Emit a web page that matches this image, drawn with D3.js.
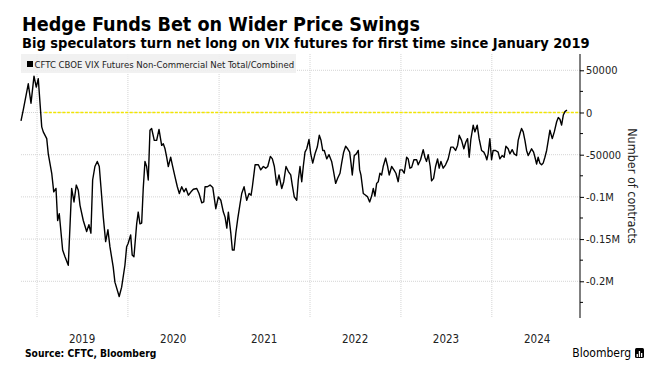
<!DOCTYPE html>
<html>
<head>
<meta charset="utf-8">
<script src="https://cdn.jsdelivr.net/npm/d3@7"></script>
<style>
  body { margin: 0; background: #fff; }
  svg { display: block; font-family: "DejaVu Sans Condensed", "DejaVu Sans", sans-serif; font-stretch: condensed; }
</style>
</head>
<body>
<div id="chart"></div>
<script>
// weekly CFTC net positioning (decimal years, contracts)
const weeks = [
  2018.824, 2018.849, 2018.904, 2018.934, 2018.967, 2018.992, 2019.014, 2019.052, 2019.069, 2019.107,
  2019.124, 2019.162, 2019.184, 2019.209, 2019.227, 2019.245, 2019.282, 2019.308, 2019.344, 2019.381,
  2019.407, 2019.432, 2019.454, 2019.473, 2019.509, 2019.546, 2019.571, 2019.593, 2019.612, 2019.637,
  2019.663, 2019.685, 2019.703, 2019.729, 2019.755, 2019.780, 2019.802, 2019.838, 2019.857, 2019.904,
  2019.931, 2019.967, 2019.986, 2020.003, 2020.030, 2020.047, 2020.066, 2020.096, 2020.113, 2020.132,
  2020.151, 2020.168, 2020.187, 2020.205, 2020.223, 2020.242, 2020.260, 2020.289, 2020.315, 2020.341,
  2020.370, 2020.388, 2020.407, 2020.425, 2020.443, 2020.469, 2020.487, 2020.516, 2020.542, 2020.564,
  2020.590, 2020.615, 2020.637, 2020.663, 2020.692, 2020.718, 2020.755, 2020.780, 2020.810, 2020.832,
  2020.846, 2020.871, 2020.901, 2020.931, 2020.964, 2020.992, 2021.019, 2021.047, 2021.066, 2021.085,
  2021.102, 2021.129, 2021.146, 2021.165, 2021.184, 2021.205, 2021.231, 2021.249, 2021.275, 2021.304,
  2021.330, 2021.352, 2021.366, 2021.396, 2021.432, 2021.458, 2021.487, 2021.513, 2021.535, 2021.564,
  2021.586, 2021.608, 2021.634, 2021.659, 2021.689, 2021.711, 2021.736, 2021.762, 2021.788, 2021.805,
  2021.827, 2021.854, 2021.871, 2021.890, 2021.909, 2021.926, 2021.945, 2021.964, 2021.989, 2022.008,
  2022.030, 2022.055, 2022.080, 2022.102, 2022.121, 2022.140, 2022.157, 2022.184, 2022.209, 2022.238,
  2022.256, 2022.282, 2022.304, 2022.330, 2022.348, 2022.370, 2022.392, 2022.414, 2022.436, 2022.451,
  2022.465, 2022.487, 2022.509, 2022.531, 2022.546, 2022.560, 2022.586, 2022.612, 2022.634, 2022.656,
  2022.678, 2022.696, 2022.714, 2022.733, 2022.751, 2022.769, 2022.788, 2022.805, 2022.832, 2022.854,
  2022.871, 2022.898, 2022.923, 2022.945, 2022.970, 2022.989, 2023.014, 2023.036, 2023.063, 2023.080,
  2023.099, 2023.118, 2023.143, 2023.173, 2023.190, 2023.216, 2023.245, 2023.264, 2023.282, 2023.300,
  2023.322, 2023.337, 2023.359, 2023.381, 2023.403, 2023.421, 2023.440, 2023.465, 2023.491, 2023.520,
  2023.549, 2023.575, 2023.601, 2023.623, 2023.641, 2023.667, 2023.692, 2023.714, 2023.733, 2023.751,
  2023.769, 2023.795, 2023.813, 2023.839, 2023.860, 2023.887, 2023.912, 2023.930, 2023.945, 2023.959,
  2023.978, 2023.997, 2024.014, 2024.041, 2024.069, 2024.088, 2024.113, 2024.135, 2024.154, 2024.179,
  2024.198, 2024.223, 2024.245, 2024.271, 2024.289, 2024.311, 2024.326, 2024.344, 2024.363, 2024.381,
  2024.399, 2024.418, 2024.436, 2024.458, 2024.473, 2024.491, 2024.508, 2024.527, 2024.546, 2024.563,
  2024.582, 2024.601, 2024.619, 2024.637, 2024.663, 2024.685, 2024.711, 2024.729, 2024.747, 2024.765,
  2024.784, 2024.802, 2024.824
];
const netPositions = [
  -10000, 3000, 34000, 11000, 43000, 30000, 40000, -17000, -23000, -31000,
  -49000, -72000, -94000, -90000, -128000, -120000, -163000, -171000, -181000, -90000,
  -106000, -86000, -92000, -110000, -128000, -141000, -133000, -143000, -80000, -64000,
  -58000, -64000, -88000, -124000, -153000, -139000, -159000, -183000, -201000, -218000,
  -207000, -181000, -159000, -155000, -145000, -169000, -171000, -132000, -118000, -132000,
  -131000, -90000, -58000, -64000, -80000, -21000, -19000, -33000, -33000, -20000,
  -39000, -37000, -43000, -53000, -64000, -53000, -62000, -76000, -88000, -96000,
  -88000, -94000, -90000, -98000, -94000, -91000, -90000, -96000, -107000, -106000,
  -88000, -88000, -86000, -89000, -114000, -100000, -104000, -118000, -124000, -137000,
  -118000, -143000, -163000, -163000, -143000, -126000, -108000, -96000, -88000, -104000,
  -96000, -98000, -88000, -62000, -62000, -68000, -64000, -66000, -64000, -52000,
  -55000, -64000, -86000, -74000, -90000, -82000, -64000, -70000, -74000, -86000,
  -100000, -104000, -80000, -64000, -82000, -64000, -47000, -43000, -32000, -49000,
  -60000, -49000, -41000, -27000, -33000, -45000, -45000, -55000, -50000, -58000,
  -68000, -84000, -78000, -72000, -60000, -47000, -40000, -43000, -47000, -60000,
  -74000, -51000, -49000, -45000, -68000, -74000, -96000, -98000, -100000, -106000,
  -99000, -90000, -99000, -84000, -82000, -72000, -74000, -64000, -54000, -64000,
  -74000, -64000, -68000, -72000, -82000, -68000, -68000, -72000, -53000, -55000,
  -66000, -65000, -56000, -56000, -62000, -56000, -44000, -53000, -58000, -50000,
  -64000, -81000, -78000, -64000, -55000, -66000, -58000, -66000, -62000, -55000,
  -41000, -41000, -45000, -39000, -27000, -33000, -43000, -35000, -31000, -53000,
  -32000, -15000, -23000, -15000, -31000, -45000, -47000, -51000, -56000, -49000,
  -31000, -56000, -45000, -45000, -47000, -55000, -51000, -53000, -40000, -43000,
  -49000, -44000, -49000, -51000, -33000, -24000, -19000, -23000, -33000, -45000,
  -51000, -47000, -43000, -47000, -53000, -61000, -53000, -60000, -62000, -60000,
  -53000, -45000, -33000, -21000, -31000, -23000, -11000, -6000, -8000, -15000,
  -3000, 1000, 3000
];
const years = [2019, 2020, 2021, 2022, 2023, 2024];
const yTicks = [50000, 0, -50000, -100000, -150000, -200000];
const yTickLabels = ["50000", "0", "-50000", "-0.1M", "-0.15M", "-0.2M"];
const xStart = 2018.824, xEnd = 2024.967;
const zeroLineFrom = 2019.08;
const seriesName = "CFTC CBOE VIX Futures Non-Commercial Net Total/Combined";

const W = 657, H = 376;
const plot = { left: 21, right: 580, top: 54, bottom: 318 };

function decYear(t) {
  const y = Math.floor(t);
  const a = new Date(y, 0, 1), b = new Date(y + 1, 0, 1);
  return new Date(+a + (t - y) * (b - a));
}

const data = weeks.map((w, i) => ({ date: decYear(w), value: netPositions[i] }));

const svg = d3.select("#chart").append("svg")
  .attr("width", W)
  .attr("height", H);

const x = d3.scaleTime()
  .domain([decYear(xStart), decYear(xEnd)])
  .range([plot.left, plot.right]);

const y = d3.scaleLinear()
  .domain([-243500, 69300])
  .range([plot.bottom, plot.top]);

// titles
svg.append("text")
  .attr("x", 22).attr("y", 30.5)
  .attr("font-size", 19.6).attr("font-weight", "bold").attr("fill", "#000")
  .text("Hedge Funds Bet on Wider Price Swings");
svg.append("text")
  .attr("x", 22).attr("y", 47.5)
  .attr("font-size", 14.5).attr("font-weight", "bold").attr("fill", "#000")
  .text("Big speculators turn net long on VIX futures for first time since January 2019");

// grid
const grid = svg.append("g");
grid.selectAll(".hgrid").data(yTicks).enter().append("line")
  .attr("x1", plot.left).attr("x2", plot.right)
  .attr("y1", d => y(d)).attr("y2", d => y(d))
  .attr("stroke", "#d4d4d4").attr("stroke-width", 1).attr("stroke-dasharray", "1,1");
grid.selectAll(".vgrid").data(years).enter().append("line")
  .attr("x1", d => x(new Date(d, 0, 1))).attr("x2", d => x(new Date(d, 0, 1)))
  .attr("y1", plot.top).attr("y2", plot.bottom)
  .attr("stroke", "#d4d4d4").attr("stroke-width", 1).attr("stroke-dasharray", "1,1");

// legend box
svg.append("rect")
  .attr("x", plot.left).attr("y", plot.top)
  .attr("width", 275).attr("height", 19)
  .attr("fill", "#efefef").attr("opacity", 0.9);
svg.append("rect")
  .attr("x", 27).attr("y", 61).attr("width", 6).attr("height", 6).attr("fill", "#000");
svg.append("text")
  .attr("x", 34.5).attr("y", 67.5)
  .attr("font-size", 9.5).attr("fill", "#222")
  .text(seriesName);

// zero reference line
svg.append("line")
  .attr("x1", x(decYear(zeroLineFrom))).attr("x2", plot.right)
  .attr("y1", y(0)).attr("y2", y(0))
  .attr("stroke", "#f2e600").attr("stroke-width", 1.5).attr("stroke-dasharray", "3,1.5");

// series line
const line = d3.line()
  .x(d => x(d.date))
  .y(d => y(d.value));
svg.append("path")
  .datum(data)
  .attr("fill", "none")
  .attr("stroke", "#000")
  .attr("stroke-width", 1.4)
  .attr("stroke-linejoin", "round")
  .attr("d", line);

// right axis
const yAxis = d3.axisRight(y)
  .tickValues(yTicks)
  .tickSize(4)
  .tickPadding(2)
  .tickFormat((d, i) => yTickLabels[i]);
const yAxisG = svg.append("g")
  .attr("transform", `translate(${plot.right},0)`)
  .call(yAxis);
yAxisG.select(".domain").attr("d", `M0,${plot.top}V${plot.bottom}`).attr("stroke", "#000");
yAxisG.selectAll(".tick line").attr("stroke", "#000");
yAxisG.selectAll(".tick text")
  .attr("font-family", "\"DejaVu Sans Condensed\", \"DejaVu Sans\", sans-serif")
  .attr("font-size", 11).attr("fill", "#222");

const minor = d3.range(-225000, 69300, 50000);
svg.append("g").selectAll("line").data(minor).enter().append("line")
  .attr("x1", plot.right).attr("x2", plot.right + 3)
  .attr("y1", d => y(d)).attr("y2", d => y(d))
  .attr("stroke", "#000");

svg.append("text")
  .attr("transform", `translate(628,${(plot.top + plot.bottom) / 2}) rotate(90)`)
  .attr("text-anchor", "middle")
  .attr("font-size", 12.5).attr("fill", "#222")
  .text("Number of contracts");

// year labels (mid-year)
svg.append("g").selectAll("text").data(years).enter().append("text")
  .attr("x", d => x(new Date(d, 6, 1)))
  .attr("y", 343)
  .attr("text-anchor", "middle")
  .attr("font-size", 11.5).attr("fill", "#222")
  .text(d => d);

// footer
svg.append("text")
  .attr("x", 25).attr("y", 357)
  .attr("font-size", 10.2).attr("font-weight", "bold").attr("fill", "#000")
  .text("Source: CFTC, Bloomberg");
svg.append("text")
  .attr("x", 631).attr("y", 357)
  .attr("text-anchor", "end")
  .attr("font-size", 12).attr("fill", "#000")
  .text("Bloomberg");
const logo = svg.append("g").attr("transform", "translate(635,348)");
logo.append("rect").attr("width", 9).attr("height", 10).attr("rx", 1.5).attr("fill", "#000");
logo.selectAll(".bar").data([3, 6, 4]).enter().append("rect")
  .attr("x", (d, i) => 1.6 + i * 2.2).attr("y", d => 9 - d)
  .attr("width", 1.3).attr("height", d => d).attr("fill", "#fff");
</script>
</body>
</html>
